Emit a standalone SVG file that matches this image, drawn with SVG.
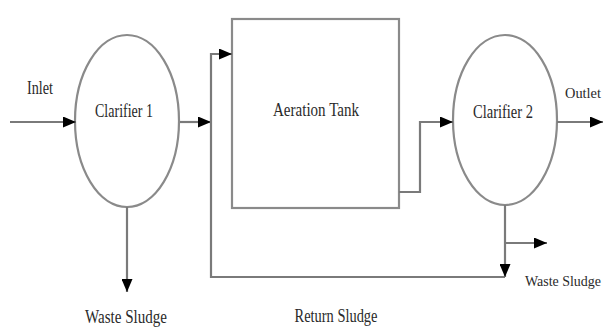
<svg xmlns="http://www.w3.org/2000/svg" width="606" height="327" viewBox="0 0 606 327">
  <style>
    .unit { fill: #ffffff; stroke: #8a8a8a; stroke-width: 2.2; }
    .flow { fill: none; stroke: #7a7a7a; stroke-width: 2.2; marker-end: url(#head); }
    .lbl { font-family: "Liberation Serif", "Times New Roman", serif; font-size: 18px; fill: #2a2a2a; text-anchor: middle; }
    .edge { font-size: 14.5px; }
  </style>
  <defs>
    <marker id="head" markerUnits="userSpaceOnUse" markerWidth="13" markerHeight="11" refX="13" refY="5.5" orient="auto">
      <path d="M0,0 L13,5.5 L0,11 z" fill="#000000"/>
    </marker>
  </defs>
  <rect width="606" height="327" fill="#ffffff"/>

  <g id="clarifier1">
    <ellipse class="unit" cx="127" cy="121" rx="52" ry="86"/>
    <text class="lbl" x="124" y="117" textLength="58" lengthAdjust="spacingAndGlyphs">Clarifier 1</text>
  </g>

  <g id="aeration-tank">
    <rect class="unit" x="232" y="19" width="167" height="189" stroke-width="2.8"/>
    <text class="lbl" x="316" y="116" textLength="86" lengthAdjust="spacingAndGlyphs">Aeration Tank</text>
  </g>

  <g id="clarifier2">
    <ellipse class="unit" cx="505" cy="120" rx="52" ry="85"/>
    <text class="lbl" x="503" y="118" textLength="60" lengthAdjust="spacingAndGlyphs">Clarifier 2</text>
  </g>

  <g id="connectors">
    <!-- raw inflow -->
    <path class="flow" d="M10,122 H76"/>
    <!-- clarifier 1 overflow to the mixing line -->
    <path class="flow" d="M180,122 H211"/>
    <!-- return sludge loop feeding the tank -->
    <path class="flow" d="M505,277 H211 V54 H232"/>
    <!-- clarifier 2 underflow -->
    <path class="flow" d="M505,205 V277"/>
    <!-- excess sludge branch -->
    <path class="flow" d="M505,243 H547"/>
    <!-- primary sludge draw-off -->
    <path class="flow" d="M127,207 V292"/>
    <!-- mixed liquor to clarifier 2 -->
    <path class="flow" d="M399,192 H420 V122 H453"/>
    <!-- treated effluent -->
    <path class="flow" d="M557,122 H603"/>
  </g>

  <g id="labels">
    <text class="lbl" x="40" y="94" textLength="26" lengthAdjust="spacingAndGlyphs">Inlet</text>
    <text class="lbl edge" x="583" y="98" textLength="36" lengthAdjust="spacingAndGlyphs">Outlet</text>
    <text class="lbl" x="126" y="323" textLength="82" lengthAdjust="spacingAndGlyphs">Waste Sludge</text>
    <text class="lbl" x="336" y="322" textLength="83" lengthAdjust="spacingAndGlyphs">Return Sludge</text>
    <text class="lbl edge" x="563" y="286" textLength="76" lengthAdjust="spacingAndGlyphs">Waste Sludge</text>
  </g>
</svg>
